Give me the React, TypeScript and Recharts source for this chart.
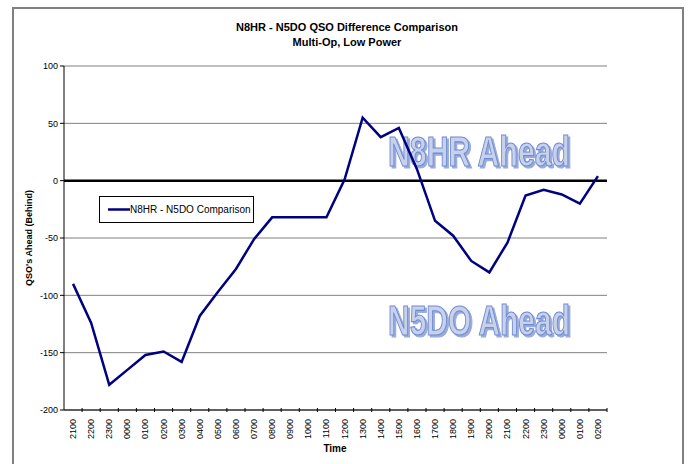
import React from 'react';
import {
  LineChart,
  Line,
  XAxis,
  YAxis,
  CartesianGrid,
  ReferenceLine,
  Legend,
} from 'recharts';

const horas = [
  '2100', '2200', '2300', '0000', '0100', '0200', '0300', '0400', '0500', '0600',
  '0700', '0800', '0900', '1000', '1100', '1200', '1300', '1400', '1500', '1600',
  '1700', '1800', '1900', '2000', '2100', '2200', '2300', '0000', '0100', '0200',
];

const diferencia = [
  -90, -124, -178, -165, -152, -149, -158, -118, -97, -77,
  -51, -32, -32, -32, -32, 1, 55, 38, 46, 10,
  -35, -48, -70, -80, -54, -13, -8, -12, -20, 4,
];

const yTicks = [100, 50, 0, -50, -100, -150, -200];

const data = horas.map((h, i) => ({ idx: i, hora: h, valor: diferencia[i] }));

const FONT = 'Arial, "Liberation Sans", Helvetica, sans-serif';
const NARROW = '"Liberation Sans Narrow", "Arial Narrow", "Liberation Sans", Arial, sans-serif';

const BAND = 543 / 30;

const TimeTick = (props: any) => {
  const { x, y, payload } = props;
  const ty = y - 6;
  return (
    <g>
      <line x1={x + BAND / 2} y1={y - 10} x2={x + BAND / 2} y2={y - 6} stroke="#000" />
      <text
        x={x}
        y={ty}
        transform={`rotate(-90, ${x + 3}, ${ty})`}
        textAnchor="end"
        fontSize={9}
        fontFamily={FONT}
        fill="#000"
        dx={-4}
      >
        {horas[payload.value]}
      </text>
    </g>
  );
};

const LegendBox = () => (
  <svg width={156} height={28}>
    <rect x={0.5} y={0.5} width={154} height={26} fill="#fff" stroke="#000" />
    <line x1={9} y1={13.5} x2={31} y2={13.5} stroke="#000080" strokeWidth={2.5} />
    <text x={31} y={17} fontSize={10} fontFamily={FONT} fill="#000">
      N8HR - N5DO Comparison
    </text>
  </svg>
);

const Watermark = ({ x, y, text }: { x: number; y: number; text: string }) => (
  <text
    x={x}
    y={y}
    fontFamily={NARROW}
    fontWeight="bold"
    fontSize={42}
    fill="#c8d1ec"
    stroke="#6f8cd0"
    strokeWidth={1.2}
    textLength={182}
    lengthAdjust="spacingAndGlyphs"
    filter="url(#sombra)"
  >
    {text}
  </text>
);

export default function App() {
  return (
    <div style={{ position: 'absolute', left: 0, top: 0, width: 690, height: 464, background: '#fff' }}>
      <svg width={690} height={464} style={{ position: 'absolute', left: 0, top: 0 }}>
        <defs>
          <filter id="sombra" x="-10%" y="-20%" width="130%" height="150%">
            <feDropShadow dx={2} dy={2} stdDeviation={0.6} floodColor="#8fa3d6" floodOpacity={0.9} />
          </filter>
        </defs>
        <path d="M13 470 L13 8 L683 8 L683 470" fill="none" stroke="#808080" strokeWidth={2} />
        <text x={347} y={31} textAnchor="middle" fontSize={11} fontWeight="bold" fontFamily={FONT}>
          N8HR - N5DO QSO Difference Comparison
        </text>
        <text x={347} y={46} textAnchor="middle" fontSize={11} fontWeight="bold" fontFamily={FONT}>
          Multi-Op, Low Power
        </text>
        <text
          x={32}
          y={238}
          transform="rotate(-90, 32, 238)"
          textAnchor="middle"
          fontSize={9}
          fontWeight="bold"
          fontFamily={FONT}
        >
          QSO's Ahead (Behind)
        </text>
        <text x={335} y={452} textAnchor="middle" fontSize={10} fontWeight="bold" fontFamily={FONT}>
          Time
        </text>
        <Watermark x={388} y={166} text="N8HR Ahead" />
        <Watermark x={388} y={335} text="N5DO Ahead" />
      </svg>
      <div style={{ position: 'absolute', left: 0, top: 0 }}>
        <LineChart
          width={690}
          height={464}
          data={data}
          margin={{ top: 66, right: 83, bottom: 14, left: 34 }}
        >
          <CartesianGrid horizontal vertical={false} stroke="#808080" />
          <XAxis
            dataKey="idx"
            type="category"
            height={40}
            interval={0}
            padding={{ left: BAND / 2, right: BAND / 2 }}
            tick={<TimeTick />}
            tickLine={false}
            axisLine={{ stroke: '#000' }}
          />
          <YAxis
            width={30}
            domain={[-200, 100]}
            ticks={yTicks}
            interval={0}
            tick={{ fontSize: 9, fontFamily: FONT, fill: '#000' }}
            tickLine={{ stroke: '#000' }}
            tickSize={4}
            axisLine={{ stroke: '#000' }}
          />
          <ReferenceLine y={0} stroke="#000" strokeWidth={2.5} />
          <Legend
            layout="horizontal"
            verticalAlign="middle"
            align="center"
            content={<LegendBox />}
            wrapperStyle={{ position: 'absolute', left: 99, top: 196, width: 156, height: 28 }}
          />
          <Line
            type="linear"
            dataKey="valor"
            stroke="#000080"
            strokeWidth={2.5}
            dot={false}
            isAnimationActive={false}
          />
        </LineChart>
      </div>
    </div>
  );
}
